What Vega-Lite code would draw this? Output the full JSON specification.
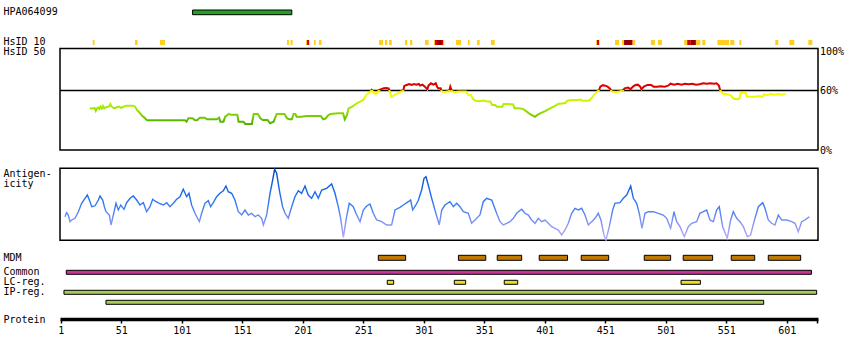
{
"$schema": "https://vega.github.io/schema/vega-lite/v6.json",
"width": 758, "height": 319,
"autosize": "none",
"padding": {"left": 60, "top": 0, "right": 32, "bottom": 41},
"background": "white",
"config": {"view": {"stroke": null}, "font": "DejaVu Sans Mono",
 "axis": {"labelFont": "DejaVu Sans Mono", "labelFontSize": 10, "labelColor": "black", "titleFont": "DejaVu Sans Mono", "titleFontSize": 10, "titleFontWeight": "normal", "titleColor": "black", "grid": false}},
"resolve": {"scale": {"y": "independent", "color": "independent"}, "axis": {"y": "independent"}},
"layer": [
 {"data": {"values": [{"name": "HPA064099", "start": 110, "end": 192}]},
  "mark": {"type": "rect", "fill": "#22a022", "stroke": "black", "strokeWidth": 1},
  "encoding": {
   "x": {"field": "start", "type": "quantitative", "title": "Protein", "scale": {"domain": [0.42, 626.9], "nice": false, "zero": false}},
   "x2": {"field": "end"},
   "y": {"field": "name", "type": "nominal", "scale": {"type": "band", "domain": ["HPA064099"], "range": [10, 14.7], "paddingInner": 0, "paddingOuter": 0},
         "axis": {"orient": "left", "title": null, "domain": false, "ticks": false, "tickSize": 0, "labelPadding": 57, "labelAlign": "left", "labelBaseline": "middle"}}
  }},
 {"data": {"values": [
   {"row": "HsID 10", "start": 27.5, "end": 29, "level": "low"},
   {"row": "HsID 10", "start": 62.4, "end": 64.6, "level": "low"},
   {"row": "HsID 10", "start": 83, "end": 87.2, "level": "low"},
   {"row": "HsID 10", "start": 188, "end": 189.7, "level": "low"},
   {"row": "HsID 10", "start": 191, "end": 192.7, "level": "low"},
   {"row": "HsID 10", "start": 203.7, "end": 204.5, "level": "low"},
   {"row": "HsID 10", "start": 204.5, "end": 206.2, "level": "mid"},
   {"row": "HsID 10", "start": 206.2, "end": 206.7, "level": "low"},
   {"row": "HsID 10", "start": 210.3, "end": 211.7, "level": "low"},
   {"row": "HsID 10", "start": 214.4, "end": 216.6, "level": "low"},
   {"row": "HsID 10", "start": 264.1, "end": 267.4, "level": "low"},
   {"row": "HsID 10", "start": 269, "end": 270.9, "level": "low"},
   {"row": "HsID 10", "start": 272.3, "end": 274.6, "level": "low"},
   {"row": "HsID 10", "start": 285.5, "end": 287.4, "level": "low"},
   {"row": "HsID 10", "start": 289.7, "end": 291.6, "level": "low"},
   {"row": "HsID 10", "start": 302.1, "end": 305.1, "level": "low"},
   {"row": "HsID 10", "start": 309.5, "end": 310.3, "level": "low"},
   {"row": "HsID 10", "start": 310.3, "end": 312, "level": "mid"},
   {"row": "HsID 10", "start": 312, "end": 316.1, "level": "high"},
   {"row": "HsID 10", "start": 316.1, "end": 317.2, "level": "mid"},
   {"row": "HsID 10", "start": 317.2, "end": 318, "level": "low"},
   {"row": "HsID 10", "start": 327.7, "end": 331.8, "level": "low"},
   {"row": "HsID 10", "start": 337.6, "end": 339, "level": "low"},
   {"row": "HsID 10", "start": 345, "end": 347.3, "level": "low"},
   {"row": "HsID 10", "start": 356.6, "end": 359.7, "level": "low"},
   {"row": "HsID 10", "start": 443.4, "end": 444.2, "level": "low"},
   {"row": "HsID 10", "start": 444.2, "end": 445.9, "level": "mid"},
   {"row": "HsID 10", "start": 445.9, "end": 446.4, "level": "low"},
   {"row": "HsID 10", "start": 459.1, "end": 462.5, "level": "low"},
   {"row": "HsID 10", "start": 464.9, "end": 466.6, "level": "low"},
   {"row": "HsID 10", "start": 466.6, "end": 473.7, "level": "high"},
   {"row": "HsID 10", "start": 473.7, "end": 475.9, "level": "low"},
   {"row": "HsID 10", "start": 488.8, "end": 492.1, "level": "low"},
   {"row": "HsID 10", "start": 494.6, "end": 497.9, "level": "low"},
   {"row": "HsID 10", "start": 516.3, "end": 518.8, "level": "low"},
   {"row": "HsID 10", "start": 518.8, "end": 521.3, "level": "mid"},
   {"row": "HsID 10", "start": 521.3, "end": 526, "level": "high"},
   {"row": "HsID 10", "start": 526, "end": 529.6, "level": "low"},
   {"row": "HsID 10", "start": 531.3, "end": 533.8, "level": "low"},
   {"row": "HsID 10", "start": 543.7, "end": 553.4, "level": "low"},
   {"row": "HsID 10", "start": 554.4, "end": 557.7, "level": "low"},
   {"row": "HsID 10", "start": 561.9, "end": 563.6, "level": "low"},
   {"row": "HsID 10", "start": 591.6, "end": 594.1, "level": "low"},
   {"row": "HsID 10", "start": 603.2, "end": 607.3, "level": "low"},
   {"row": "HsID 10", "start": 618.9, "end": 622.2, "level": "low"}
  ]},
  "mark": {"type": "rect"},
  "encoding": {
   "x": {"field": "start", "type": "quantitative", "title": "Protein", "scale": {"domain": [0.42, 626.9], "nice": false, "zero": false}},
   "x2": {"field": "end"},
   "y": {"field": "row", "type": "nominal", "scale": {"type": "band", "domain": ["HsID 10", "HsID 50"], "range": [40, 54.8], "paddingInner": 0.49, "paddingOuter": 0},
         "axis": {"orient": "left", "title": null, "domain": false, "ticks": false, "tickSize": 0, "labelPadding": 57, "labelAlign": "left", "labelBaseline": "middle"}},
   "color": {"field": "level", "type": "nominal", "scale": {"domain": ["low", "mid", "high"], "range": ["#ffcc22", "#dd0000", "#990000"]}, "legend": null}
  }},
 {"layer": [
   {"data": {"values": [{"panel": "identity"}]},
    "mark": {"type": "rect", "filled": false, "stroke": "black", "strokeWidth": 1.5},
    "encoding": {"y": {"datum": 102.5, "type": "quantitative", "scale": {"domain": [0, 100], "range": [150, 51], "nice": false, "zero": false},
       "axis": {"orient": "right", "values": [0, 60, 100], "labelExpr": "datum.value + '%'", "title": null, "domain": false, "ticks": false, "tickSize": 0, "labelPadding": 1.5, "labelAlign": "left", "labelBaseline": "middle"}},
     "y2": {"datum": 0}}},
   {"data": {"values": [{"panel": "identity"}]},
    "mark": {"type": "rule", "stroke": "black", "strokeWidth": 1.5},
    "encoding": {"y": {"datum": 60, "type": "quantitative",
       "axis": {"orient": "right", "values": [0, 60, 100], "labelExpr": "datum.value + '%'", "title": null, "domain": false, "ticks": false, "tickSize": 0, "labelPadding": 1.5, "labelAlign": "left", "labelBaseline": "middle"}}}},
   {"data": {"values": [
     {"pos":25,"val":42.1},{"pos":27,"val":42},{"pos":29,"val":42.5},{"pos":30,"val":39.5},{"pos":31,"val":42},{"pos":32,"val":43},{"pos":33,"val":41.5},{"pos":34,"val":44},{"pos":35,"val":42},{"pos":36,"val":44.5},{"pos":37,"val":42},{"pos":39,"val":43.5},{"pos":41,"val":44},{"pos":42,"val":46.5},{"pos":43,"val":44},{"pos":45,"val":42.2},{"pos":47,"val":43},{"pos":49,"val":43.8},{"pos":51,"val":42.5},{"pos":53,"val":43.8},{"pos":55,"val":44.8},{"pos":58,"val":44.8},{"pos":61,"val":44.8},{"pos":62.5,"val":43.8},{"pos":64,"val":40.4},{"pos":65.5,"val":38.7},{"pos":67,"val":36.4},{"pos":68.5,"val":34.3},{"pos":70,"val":33},{"pos":71.5,"val":31},{"pos":72.5,"val":30},{"pos":80,"val":30},{"pos":90,"val":30},{"pos":100,"val":30},{"pos":103.7,"val":30},{"pos":105,"val":28.6},{"pos":106.5,"val":32},{"pos":110,"val":32},{"pos":112,"val":30},{"pos":114,"val":30.3},{"pos":116,"val":32.7},{"pos":120,"val":32.7},{"pos":122,"val":31},{"pos":127,"val":31},{"pos":130,"val":31},{"pos":132,"val":32.7},{"pos":133,"val":28.6},{"pos":135.5,"val":28.6},{"pos":137,"val":33.7},{"pos":140,"val":36.4},{"pos":142,"val":35.5},{"pos":147,"val":35.5},{"pos":148,"val":28.6},{"pos":152,"val":28.6},{"pos":153.5,"val":26.3},{"pos":159,"val":26.3},{"pos":160.5,"val":36.4},{"pos":164,"val":36.4},{"pos":166,"val":32},{"pos":168,"val":30.3},{"pos":172,"val":30.3},{"pos":174,"val":27},{"pos":177,"val":28.6},{"pos":179.5,"val":36.4},{"pos":186,"val":36.4},{"pos":188,"val":32},{"pos":190,"val":31},{"pos":192,"val":31},{"pos":193.5,"val":36.4},{"pos":195,"val":36.4},{"pos":196,"val":33.7},{"pos":200,"val":33.7},{"pos":204,"val":34.3},{"pos":210,"val":34.3},{"pos":216,"val":34.3},{"pos":218,"val":31},{"pos":220,"val":32},{"pos":222,"val":35},{"pos":224,"val":36.4},{"pos":230,"val":37},{"pos":234.4,"val":37},{"pos":235.8,"val":31},{"pos":237.5,"val":35},{"pos":239,"val":42.1},{"pos":242,"val":43.8},{"pos":245,"val":46.5},{"pos":248,"val":48.5},{"pos":251,"val":50.5},{"pos":253,"val":54.5},{"pos":255,"val":57.2},{"pos":257,"val":59},{"pos":258,"val":60.6},{"pos":259,"val":58.9},{"pos":261,"val":56.5},{"pos":263,"val":58},{"pos":264,"val":60.6},{"pos":266,"val":61.5},{"pos":268,"val":62.3},{"pos":270,"val":62.5},{"pos":272,"val":62.3},{"pos":273,"val":59},{"pos":274.3,"val":53.9},{"pos":276,"val":55},{"pos":278,"val":56.5},{"pos":280,"val":57.2},{"pos":282,"val":58.9},{"pos":284,"val":59.5},{"pos":285,"val":64.6},{"pos":287,"val":65.7},{"pos":289,"val":66.7},{"pos":291,"val":65.7},{"pos":293,"val":66.7},{"pos":295,"val":66},{"pos":297,"val":66.7},{"pos":298,"val":65},{"pos":300,"val":66},{"pos":302,"val":64},{"pos":304,"val":61.3},{"pos":305,"val":65},{"pos":307,"val":67.4},{"pos":309,"val":66},{"pos":311,"val":67.4},{"pos":312,"val":64},{"pos":313,"val":62.3},{"pos":315,"val":62.3},{"pos":316,"val":59},{"pos":318,"val":58.5},{"pos":320,"val":59},{"pos":322,"val":59},{"pos":323,"val":64},{"pos":324.5,"val":59},{"pos":327,"val":58.5},{"pos":330,"val":59},{"pos":333,"val":59},{"pos":336,"val":59},{"pos":338,"val":55.5},{"pos":340,"val":55.5},{"pos":342,"val":51.2},{"pos":344,"val":49.8},{"pos":347,"val":49.3},{"pos":350,"val":50},{"pos":353,"val":49.3},{"pos":356,"val":49},{"pos":357.5,"val":45.5},{"pos":360,"val":45.5},{"pos":361.5,"val":43.8},{"pos":366,"val":43.8},{"pos":367,"val":46.5},{"pos":371,"val":46.5},{"pos":375,"val":46},{"pos":376,"val":42.1},{"pos":380,"val":42.1},{"pos":383,"val":41.5},{"pos":386,"val":39},{"pos":388,"val":37},{"pos":390,"val":35.5},{"pos":392,"val":34.3},{"pos":393,"val":33.5},{"pos":395,"val":35.5},{"pos":398,"val":37.5},{"pos":401,"val":39},{"pos":404,"val":41},{"pos":407,"val":43},{"pos":409,"val":44},{"pos":412,"val":46.5},{"pos":415,"val":47},{"pos":418,"val":47.5},{"pos":420,"val":50},{"pos":424,"val":50.5},{"pos":428,"val":50.5},{"pos":430,"val":51},{"pos":432,"val":50},{"pos":436,"val":49.8},{"pos":438,"val":50},{"pos":440,"val":53},{"pos":442,"val":56},{"pos":444,"val":58.5},{"pos":446,"val":60.6},{"pos":447,"val":64},{"pos":449,"val":65.5},{"pos":451,"val":65},{"pos":453,"val":64},{"pos":455,"val":62},{"pos":456.5,"val":59},{"pos":460,"val":58.5},{"pos":463,"val":59},{"pos":466,"val":60.6},{"pos":467,"val":62.3},{"pos":470,"val":63},{"pos":472,"val":61.5},{"pos":474,"val":64},{"pos":476,"val":65.7},{"pos":478,"val":66},{"pos":480,"val":64},{"pos":481,"val":61.3},{"pos":483,"val":64},{"pos":486,"val":65.7},{"pos":489,"val":65.7},{"pos":491,"val":64},{"pos":494,"val":64},{"pos":497,"val":64.5},{"pos":500,"val":64},{"pos":503,"val":65},{"pos":505,"val":67},{"pos":508,"val":66},{"pos":511,"val":67},{"pos":514,"val":66},{"pos":517,"val":67},{"pos":520,"val":66.5},{"pos":523,"val":67},{"pos":526,"val":66},{"pos":529,"val":66.5},{"pos":532,"val":67.4},{"pos":535,"val":67},{"pos":538,"val":67.4},{"pos":541,"val":67},{"pos":543,"val":67.4},{"pos":545,"val":65},{"pos":546,"val":60.6},{"pos":548,"val":57},{"pos":550,"val":56.6},{"pos":553,"val":56},{"pos":555,"val":55},{"pos":557,"val":52},{"pos":560,"val":51.2},{"pos":562,"val":52},{"pos":563,"val":57.9},{"pos":567,"val":57.9},{"pos":568,"val":54},{"pos":572,"val":53.8},{"pos":575,"val":53.8},{"pos":578,"val":54.5},{"pos":581,"val":53.8},{"pos":582,"val":56},{"pos":585,"val":55.5},{"pos":588,"val":56.5},{"pos":591,"val":55.8},{"pos":594,"val":56.5},{"pos":597,"val":55.8},{"pos":600,"val":56.6}
    ]},
    "mark": {"type": "line", "strokeWidth": 2,
     "stroke": {"gradient": "linear", "x1": 0, "y1": 0, "x2": 0, "y2": 1, "stops": [
       {"offset": 0, "color": "#dd0000"}, {"offset": 0.168, "color": "#dd0000"}, {"offset": 0.176, "color": "#ffee00"},
       {"offset": 0.3, "color": "#f0ff00"}, {"offset": 0.423, "color": "#ccf200"}, {"offset": 0.545, "color": "#b0ee00"},
       {"offset": 0.667, "color": "#96e000"}, {"offset": 0.79, "color": "#7cd000"}, {"offset": 0.886, "color": "#66c000"},
       {"offset": 0.91, "color": "#5cb800"}, {"offset": 1, "color": "#55b000"}]}},
    "encoding": {
     "x": {"field": "pos", "type": "quantitative", "title": "Protein", "scale": {"domain": [0.42, 626.9], "nice": false, "zero": false}},
     "y": {"field": "val", "type": "quantitative",
           "axis": {"orient": "right", "values": [0, 60, 100], "labelExpr": "datum.value + '%'", "title": null, "domain": false, "ticks": false, "tickSize": 0, "labelPadding": 1.5, "labelAlign": "left", "labelBaseline": "middle"}}
    }}
 ]},
 {"layer": [
   {"data": {"values": [{"panel": "antigenicity"}]},
    "mark": {"type": "rect", "filled": false, "stroke": "black", "strokeWidth": 1.5},
    "encoding": {"y": {"datum": 72, "type": "quantitative", "scale": {"domain": [0, 72], "range": [240.3, 168.3], "nice": false, "zero": false},
       "axis": {"orient": "left", "values": [67, 57], "labelExpr": "datum.value > 60 ? 'Antigen-' : 'icity'", "title": null, "domain": false, "ticks": false, "tickSize": 0, "labelPadding": 57, "labelAlign": "left", "labelBaseline": "middle"}},
     "y2": {"datum": 0}}},
   {"data": {"values": [
     {"pos":4.5,"val":23.6},{"pos":5.9,"val":27.6},{"pos":7.3,"val":25.3},{"pos":8.7,"val":18.6},{"pos":10.1,"val":20.3},{"pos":12.8,"val":22},{"pos":15.6,"val":28.6},{"pos":18.3,"val":37},{"pos":21.1,"val":42},{"pos":23,"val":45.3},{"pos":24.7,"val":40.3},{"pos":26.6,"val":33.6},{"pos":29.3,"val":34.3},{"pos":32.1,"val":40.3},{"pos":33.5,"val":44.3},{"pos":35.7,"val":40.3},{"pos":37.1,"val":33.6},{"pos":38.4,"val":28.6},{"pos":41.2,"val":25.3},{"pos":42.6,"val":15.3},{"pos":44.5,"val":25.3},{"pos":46.7,"val":37},{"pos":48.6,"val":30.3},{"pos":50.6,"val":35.3},{"pos":53.3,"val":31},{"pos":55.5,"val":37.6},{"pos":58.3,"val":42},{"pos":61,"val":44.3},{"pos":63.8,"val":40.3},{"pos":66.5,"val":35.3},{"pos":69.3,"val":37.6},{"pos":72,"val":28.6},{"pos":74.8,"val":33.6},{"pos":77,"val":41},{"pos":79.8,"val":38.6},{"pos":82.5,"val":37},{"pos":85.8,"val":35.3},{"pos":88.6,"val":37.6},{"pos":91.3,"val":33.6},{"pos":94.1,"val":37},{"pos":96.8,"val":41},{"pos":99.6,"val":43.6},{"pos":102.3,"val":51},{"pos":105.1,"val":43.6},{"pos":107,"val":47},{"pos":109.2,"val":35.3},{"pos":112,"val":27},{"pos":115.6,"val":18.6},{"pos":117.5,"val":27},{"pos":120.2,"val":37},{"pos":123,"val":39.6},{"pos":124.9,"val":33.6},{"pos":127.1,"val":37.6},{"pos":129.9,"val":43.6},{"pos":132.6,"val":47},{"pos":135.4,"val":49.6},{"pos":137.6,"val":54.3},{"pos":139.5,"val":48.6},{"pos":142.3,"val":47},{"pos":145,"val":40.3},{"pos":147.8,"val":28.6},{"pos":150.6,"val":25.3},{"pos":153.3,"val":30.3},{"pos":156.1,"val":25.3},{"pos":158.8,"val":27},{"pos":161.6,"val":23.6},{"pos":164.3,"val":25.3},{"pos":167.1,"val":22},{"pos":168.5,"val":15.3},{"pos":171.2,"val":25.3},{"pos":174,"val":47},{"pos":176.2,"val":60.3},{"pos":177.8,"val":71},{"pos":179.5,"val":67},{"pos":180.8,"val":57},{"pos":182.2,"val":47},{"pos":184.4,"val":33.6},{"pos":186.4,"val":27},{"pos":189.1,"val":22},{"pos":191.9,"val":33.6},{"pos":194.6,"val":43.6},{"pos":197.4,"val":49.6},{"pos":200.1,"val":47},{"pos":202.9,"val":54.3},{"pos":205.6,"val":45.3},{"pos":208.4,"val":42},{"pos":211.2,"val":48.6},{"pos":213.9,"val":42},{"pos":216.7,"val":50.3},{"pos":220.8,"val":52},{"pos":224.9,"val":56.3},{"pos":227.7,"val":47},{"pos":230.4,"val":33.6},{"pos":232.4,"val":22},{"pos":234.6,"val":3},{"pos":237.3,"val":23.6},{"pos":239.5,"val":37},{"pos":242.8,"val":33.6},{"pos":245,"val":27},{"pos":248.4,"val":18.6},{"pos":251.1,"val":30.3},{"pos":253.9,"val":34.3},{"pos":256.6,"val":36.3},{"pos":259.4,"val":27},{"pos":262.1,"val":20.3},{"pos":266.3,"val":18.6},{"pos":270.4,"val":15.3},{"pos":274.5,"val":15.3},{"pos":277.3,"val":30.3},{"pos":281.4,"val":33},{"pos":284.2,"val":35.3},{"pos":288.3,"val":38.6},{"pos":290.2,"val":40.3},{"pos":291.9,"val":30.3},{"pos":294.6,"val":35.3},{"pos":296.6,"val":40},{"pos":299.3,"val":50.3},{"pos":301.3,"val":62},{"pos":302.9,"val":63.6},{"pos":304.8,"val":55.3},{"pos":307.6,"val":42},{"pos":310.3,"val":30.3},{"pos":312.3,"val":22},{"pos":313.9,"val":15.3},{"pos":315.9,"val":30.3},{"pos":318.6,"val":35.3},{"pos":322.7,"val":38.6},{"pos":325.5,"val":33.6},{"pos":328.3,"val":37},{"pos":331,"val":33.6},{"pos":333.8,"val":28.6},{"pos":337.9,"val":27},{"pos":340.6,"val":17},{"pos":343.4,"val":20.3},{"pos":347.5,"val":25.3},{"pos":350.3,"val":38.6},{"pos":353,"val":42},{"pos":357.2,"val":40.3},{"pos":361.3,"val":27},{"pos":364.1,"val":18.6},{"pos":366.8,"val":15.3},{"pos":369.6,"val":17},{"pos":372.3,"val":18.6},{"pos":375.1,"val":22},{"pos":377.8,"val":27},{"pos":382,"val":31},{"pos":384.7,"val":27},{"pos":387.5,"val":25.3},{"pos":390.2,"val":20.3},{"pos":393,"val":17},{"pos":395.7,"val":22},{"pos":398.5,"val":18.6},{"pos":401.3,"val":20.3},{"pos":404,"val":17},{"pos":406.8,"val":13.6},{"pos":409.5,"val":12},{"pos":412.3,"val":10.3},{"pos":415,"val":5.3},{"pos":417.8,"val":10.3},{"pos":420.5,"val":17},{"pos":423.3,"val":27},{"pos":426,"val":32},{"pos":428.8,"val":30.3},{"pos":431.6,"val":32},{"pos":434.3,"val":25.3},{"pos":437.1,"val":15.3},{"pos":439.8,"val":18.6},{"pos":442.6,"val":22},{"pos":445.3,"val":27},{"pos":447.5,"val":20.3},{"pos":450,"val":5.3},{"pos":451.7,"val":0.3},{"pos":454.4,"val":13.6},{"pos":457.2,"val":30.3},{"pos":459.1,"val":37},{"pos":463.2,"val":37.6},{"pos":466,"val":42},{"pos":468.8,"val":45.3},{"pos":472.1,"val":54.3},{"pos":474.3,"val":42},{"pos":477,"val":37},{"pos":479.2,"val":27},{"pos":481.4,"val":12},{"pos":483.9,"val":27},{"pos":486.7,"val":28.6},{"pos":490.8,"val":28.6},{"pos":494.9,"val":27},{"pos":499,"val":25.3},{"pos":501.8,"val":22},{"pos":505.1,"val":12},{"pos":507.9,"val":28.6},{"pos":510.1,"val":18.6},{"pos":512.8,"val":13.6},{"pos":516.4,"val":3.6},{"pos":519.7,"val":13.6},{"pos":522.5,"val":17},{"pos":526.6,"val":18.6},{"pos":529.3,"val":27},{"pos":532.1,"val":28.6},{"pos":534.9,"val":30.3},{"pos":537.6,"val":20.3},{"pos":540.4,"val":18.6},{"pos":543.1,"val":30.3},{"pos":545.3,"val":33.6},{"pos":548.1,"val":13.6},{"pos":551.9,"val":2},{"pos":554.7,"val":20.3},{"pos":556.9,"val":28.6},{"pos":559.7,"val":22},{"pos":562.4,"val":18.6},{"pos":565.2,"val":13.6},{"pos":568.5,"val":3.6},{"pos":571.2,"val":5.3},{"pos":574,"val":18.6},{"pos":577.6,"val":33.6},{"pos":581.2,"val":37.6},{"pos":583.1,"val":32},{"pos":585.8,"val":20.3},{"pos":588.6,"val":17},{"pos":591.3,"val":15.3},{"pos":594.1,"val":25.3},{"pos":596.9,"val":20.3},{"pos":601,"val":20.3},{"pos":605.1,"val":18.6},{"pos":607.9,"val":17},{"pos":610.6,"val":8.6},{"pos":613.4,"val":18.6},{"pos":616.1,"val":20.3},{"pos":619.7,"val":23.6}
    ]},
    "mark": {"type": "line", "strokeWidth": 1.4,
     "stroke": {"gradient": "linear", "x1": 0, "y1": 0, "x2": 0, "y2": 1, "stops": [
       {"offset": 0, "color": "#0a48b0"}, {"offset": 0.16, "color": "#0d5ad8"}, {"offset": 0.37, "color": "#1f6cf0"},
       {"offset": 0.51, "color": "#3a7cf5"}, {"offset": 0.65, "color": "#6288f2"}, {"offset": 0.79, "color": "#8a94f5"},
       {"offset": 0.93, "color": "#aaa4fa"}, {"offset": 1, "color": "#b8aaff"}]}},
    "encoding": {
     "x": {"field": "pos", "type": "quantitative", "title": "Protein", "scale": {"domain": [0.42, 626.9], "nice": false, "zero": false}},
     "y": {"field": "val", "type": "quantitative",
           "axis": {"orient": "left", "values": [67, 57], "labelExpr": "datum.value > 60 ? 'Antigen-' : 'icity'", "title": null, "domain": false, "ticks": false, "tickSize": 0, "labelPadding": 57, "labelAlign": "left", "labelBaseline": "middle"}}
    }}
 ]},
 {"data": {"values": [
   {"track": "MDM", "start": 263.5, "end": 286.1},
   {"track": "MDM", "start": 329.7, "end": 352.3},
   {"track": "MDM", "start": 361.8, "end": 382},
   {"track": "MDM", "start": 396.5, "end": 419.9},
   {"track": "MDM", "start": 431.2, "end": 453.9},
   {"track": "MDM", "start": 483.3, "end": 505.1},
   {"track": "MDM", "start": 515.5, "end": 539.8},
   {"track": "MDM", "start": 555.2, "end": 574.6},
   {"track": "MDM", "start": 585.8, "end": 612.6}
  ]},
  "mark": {"type": "rect", "stroke": "black", "strokeWidth": 1},
  "encoding": {
   "x": {"field": "start", "type": "quantitative", "title": "Protein", "scale": {"domain": [0.42, 626.9], "nice": false, "zero": false}},
   "x2": {"field": "end"},
   "y": {"field": "track", "type": "nominal", "scale": {"type": "band", "domain": ["MDM"], "range": [255.3, 260.3], "paddingInner": 0, "paddingOuter": 0},
         "axis": {"orient": "left", "title": null, "domain": false, "ticks": false, "tickSize": 0, "labelPadding": 57, "labelAlign": "left", "labelBaseline": "middle"}},
   "color": {"field": "track", "type": "nominal", "scale": {"domain": ["MDM"], "range": ["#c07800"]}, "legend": null}
  }},
 {"data": {"values": [
   {"track": "Common", "start": 5.6, "end": 621.5},
   {"track": "LC-reg.", "start": 270.9, "end": 276.2},
   {"track": "LC-reg.", "start": 326.3, "end": 335.7},
   {"track": "LC-reg.", "start": 367.6, "end": 378.7},
   {"track": "LC-reg.", "start": 513.7, "end": 529.7},
   {"track": "IP-reg.", "start": 3.7, "end": 625.8},
   {"track": "IP-reg.2", "start": 38.4, "end": 582}
  ]},
  "mark": {"type": "rect", "stroke": "black", "strokeWidth": 1},
  "encoding": {
   "x": {"field": "start", "type": "quantitative", "title": "Protein", "scale": {"domain": [0.42, 626.9], "nice": false, "zero": false},
         "axis": {"values": [1, 51, 101, 151, 201, 251, 301, 351, 401, 451, 501, 551, 601, 625.8], "format": "d", "labelExpr": "datum.value > 620 ? '' : datum.label",
                  "domain": true, "domainColor": "black", "domainWidth": 3.5, "ticks": true, "tickColor": "black", "tickSize": 4, "tickWidth": 1.5,
                  "labelPadding": 2, "labelFlush": false, "labelOverlap": false, "labelBound": false, "grid": false,
                  "titleX": -57, "titleY": 0, "titleAlign": "left", "titleBaseline": "middle", "titleAngle": 0, "titleFontWeight": "normal"}},
   "x2": {"field": "end"},
   "y": {"field": "track", "type": "nominal", "scale": {"type": "band", "domain": ["Common", "LC-reg.", "IP-reg.", "IP-reg.2"], "range": [270.3, 304.3], "paddingInner": 0.6, "paddingOuter": 0},
         "axis": {"orient": "left", "title": null, "domain": false, "ticks": false, "tickSize": 0, "labelPadding": 57, "labelAlign": "left", "labelBaseline": "middle", "labelExpr": "datum.value == 'IP-reg.2' ? '' : datum.label"}},
   "color": {"field": "track", "type": "nominal", "scale": {"domain": ["Common", "LC-reg.", "IP-reg.", "IP-reg.2"], "range": ["#cc3399", "#eedd22", "#a8cc55", "#a8cc55"]}, "legend": null}
  }}
]
}
